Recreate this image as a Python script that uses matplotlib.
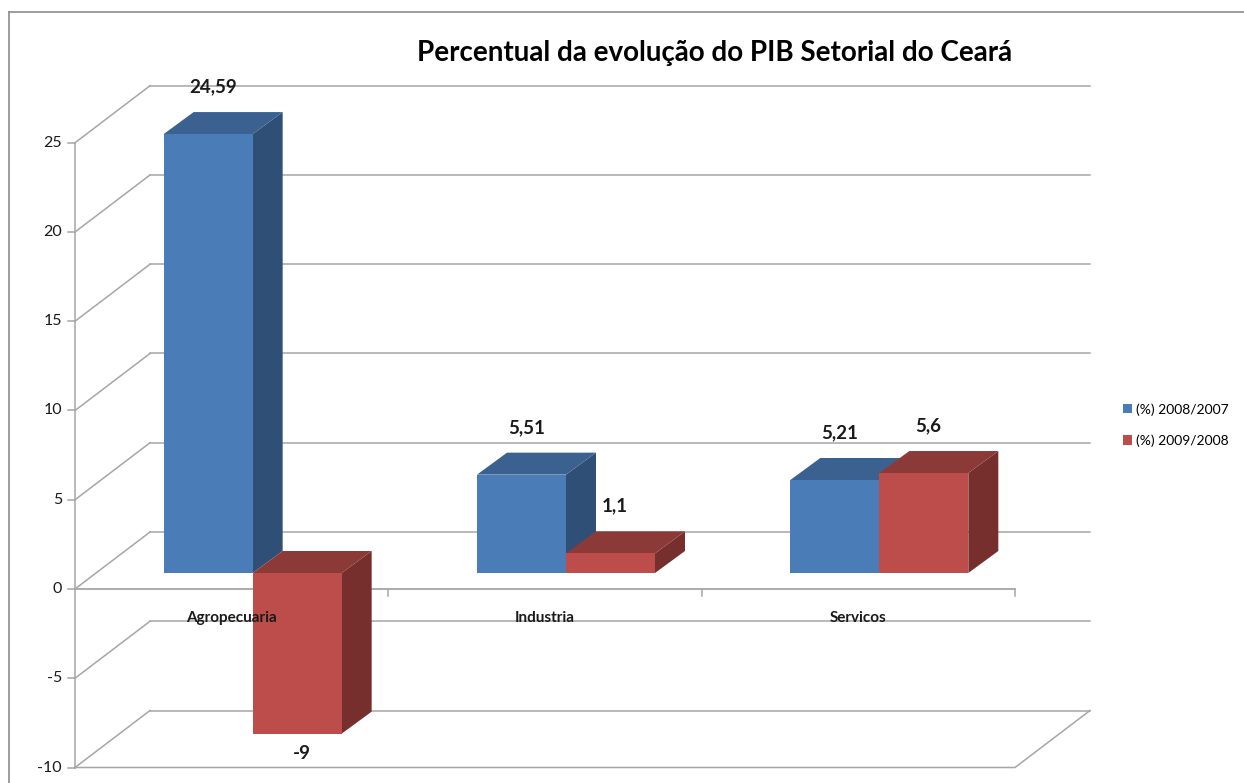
import matplotlib
matplotlib.use('Agg')
import matplotlib.pyplot as plt
from matplotlib.patches import Polygon
from matplotlib.lines import Line2D

# data
categorias = ['Agropecuaria', 'Industria', 'Servicos']
series = ['(%) 2008/2007', '(%) 2009/2008']
v2008 = [24.59, 5.51, 5.21]
v2009 = [-9, 1.1, 5.6]
rotulos_2008 = ['24,59', '5,51', '5,21']
rotulos_2009 = ['-9', '1,1', '5,6']
yticks = [-10, -5, 0, 5, 10, 15, 20, 25]

plt.rcParams['font.family'] = ['Lato', 'DejaVu Sans']

# cores (frente, topo, lado)
azul = ('#4a7db8', '#3a6190', '#2f4f77')
verm = ('#bd4d4a', '#8c3a38', '#772f2e')
grade = '#a6a6a6'

fig = plt.figure(figsize=(12.44, 7.83), dpi=100)
ax = fig.add_axes([0, 0, 1, 1])
ax.set_axis_off()

# escalas: 313.3 px por categoria, 17.85 px por unidade
pxx = 313.33
pxy = 17.85
x0 = -0.5 - 75 / pxx
ax.set_xlim(x0, x0 + 1244 / pxx)
ax.set_ylim(-(783 - 589) / pxy, 589 / pxy)

# profundidade (parede, frente das barras, barra)
wdx, wdy = 75 / pxx, 57 / pxy
fdx, fdy = 21 / pxx, 16 / pxy
bdx, bdy = 30 / pxx, 22 / pxy
w = 89 / pxx
xa, xb = -0.5, 2.5
ymin, ymax = yticks[0], yticks[-1]

# parede do fundo e parede lateral
for t in yticks:
    ax.plot([xa + wdx, xb + wdx], [t + wdy, t + wdy], color=grade, lw=1.1, zorder=1)
    ax.plot([xa, xa + wdx], [t, t + wdy], color=grade, lw=1.1, zorder=1)
    ax.plot([xa - 7 / pxx, xa], [t, t], color=grade, lw=1.1, zorder=1)
    ax.text(xa - 13 / pxx, t, str(t), ha='right', va='center', fontsize=11.5, color='#1a1a1a')

# eixo vertical
ax.plot([xa, xa], [ymin, ymax], color=grade, lw=1.1, zorder=1)
# piso em -10
ax.plot([xa, xb, xb + wdx], [ymin, ymin, ymin + wdy], color=grade, lw=1.1, zorder=1)
# eixo das categorias em 0
ax.plot([xa, xb], [0, 0], color=grade, lw=1.3, zorder=1)
for i in range(1, len(categorias) + 1):
    ax.plot([xa + i, xa + i], [0, -7 / pxy], color=grade, lw=1.1, zorder=1)
for i, c in enumerate(categorias):
    ax.text(i, -1.62, c, ha='center', va='center', fontsize=11, fontweight='bold', color='#1a1a1a', zorder=6)


def barra3d(x, v, cores):
    b0 = fdy
    b1 = v + fdy
    topo = max(b0, b1)
    lado = Polygon([(x + w, b0), (x + w + bdx, b0 + bdy), (x + w + bdx, b1 + bdy), (x + w, b1)],
                   closed=True, fc=cores[2], ec='none', zorder=3)
    cima = Polygon([(x, topo), (x + bdx, topo + bdy), (x + w + bdx, topo + bdy), (x + w, topo)],
                   closed=True, fc=cores[1], ec='none', zorder=3)
    ax.add_patch(lado)
    ax.add_patch(cima)


pos = list(range(len(categorias)))
for i in pos:
    barra3d(i + fdx - w, v2008[i], azul)
    ax.bar(i + fdx - w, v2008[i], bottom=fdy, width=w, align='edge', color=azul[0], zorder=4,
           label=series[0] if i == 0 else None)
    barra3d(i + fdx, v2009[i], verm)
    ax.bar(i + fdx, v2009[i], bottom=fdy, width=w, align='edge', color=verm[0], zorder=4,
           label=series[1] if i == 0 else None)

# rotulos de dados
for i in pos:
    for v, r, xc in [(v2008[i], rotulos_2008[i], i + fdx - w / 2), (v2009[i], rotulos_2009[i], i + fdx + w / 2)]:
        if v >= 0:
            yl = v + fdy + 2.65
        else:
            yl = v + fdy - 1.1
        ax.text(xc + 0.015, yl, r, ha='center', va='center', fontsize=13.5, fontweight='bold',
                color='#1a1a1a', zorder=6)

# titulo
fig.text(715 / 1244, 1 - 53 / 783, 'Percentual da evolução do PIB Setorial do Ceará', ha='center',
         va='center', fontsize=20, fontweight='bold', color='#000000')

# legenda
fig.legend(loc='center left', bbox_to_anchor=(1120 / 1244, 1 - 425 / 783), frameon=False,
           handlelength=0.65, handleheight=0.65, handletextpad=0.3, labelspacing=1.35, fontsize=10,
           borderaxespad=0, borderpad=0.2)

# borda do grafico
fig.add_artist(Line2D([9 / 1244, 1], [1 - 12 / 783, 1 - 12 / 783], color='#8c8c8c', lw=1.2))
fig.add_artist(Line2D([9 / 1244, 9 / 1244], [0, 1 - 12 / 783], color='#8c8c8c', lw=1.2))

fig.savefig('out.png', dpi=100)
